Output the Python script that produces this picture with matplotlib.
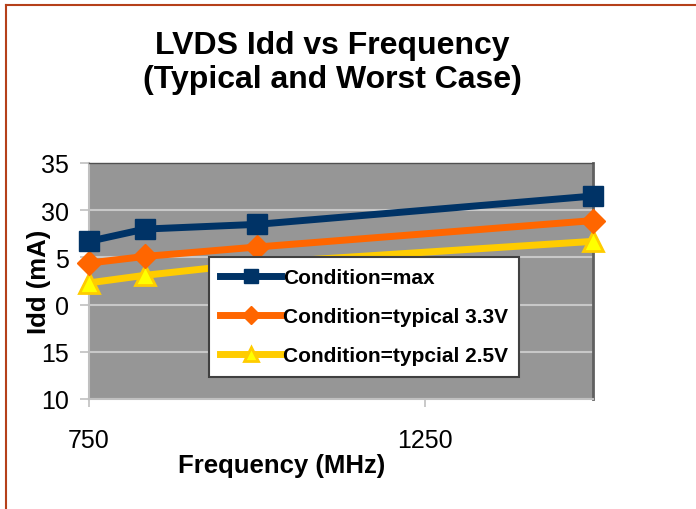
import matplotlib
matplotlib.use("Agg")
import matplotlib.pyplot as plt
from matplotlib.lines import Line2D

plt.rcParams['font.family'] = ['Liberation Sans', 'DejaVu Sans']

freq = [750, 833, 1000, 1500]
idd_max = [26.7, 28.0, 28.5, 31.5]
idd_typ33 = [24.4, 25.1, 26.1, 28.9]
idd_typ25 = [22.3, 23.1, 24.4, 26.7]
series_names = ["Condition=max", "Condition=typical 3.3V", "Condition=typcial 2.5V"]
xticks = [750, 1250]
yticks = [10, 15, 20, 25, 30, 35]
# tick texts as they appear in the reference (leading "2" hidden behind the axis title)
ytick_labels = ["10", "15", "0", "5", "30", "35"]
title = "LVDS Idd vs Frequency\n(Typical and Worst Case)"
xlabel = "Frequency (MHz)"
ylabel = "Idd (mA)"

fig = plt.figure(figsize=(6.96, 5.10), dpi=100)
ax = fig.add_axes([89/696, 1-400/510, (593-89)/696, (400-164)/510])
ax.set_facecolor('#969696')

ax.plot(freq, idd_max, color='#003366', lw=5, marker='s', ms=14.5,
        mfc='#003366', mec='#003366', label=series_names[0], clip_on=False, zorder=5)
ax.plot(freq, idd_typ33, color='#FF6600', lw=5, marker='D', ms=12.5,
        mfc='#FF6600', mec='#FF6600', label=series_names[1], clip_on=False, zorder=4)
ax.plot(freq, idd_typ25, color='#FFCC00', lw=5, marker='^', ms=15,
        mfc='#FFFF00', mec='#FFCC00', mew=2, label=series_names[2], clip_on=False, zorder=3)

ax.set_xlim(750, 1500)
ax.set_ylim(10, 35)
ax.set_xticks(xticks)
ax.set_yticks(yticks)
ax.set_yticklabels(ytick_labels)
ax.grid(axis='y', color='#C8C8C8', lw=1.5)
ax.set_axisbelow(True)

for s in ['left', 'bottom']:
    ax.spines[s].set_color('#C0C0C0')
    ax.spines[s].set_linewidth(1.5)
ax.spines['top'].set_color('#505050')
ax.spines['top'].set_linewidth(1.0)
ax.spines['right'].set_color('#606060')
ax.spines['right'].set_linewidth(2.0)

ax.tick_params(axis='x', length=6, width=1.2, color='#C0C0C0', pad=15, labelsize=18)
ax.tick_params(axis='y', length=6.5, width=1.2, color='#C0C0C0', pad=8, labelsize=18)

ax.set_xlabel(xlabel, fontsize=18.5, fontweight='bold', va='center')
ax.xaxis.set_label_coords((282-89)/504, (400-466)/236)
ax.set_ylabel(ylabel, fontsize=18.5, fontweight='bold', va='center')
ax.yaxis.set_label_coords((39-89)/504, 0.5)

fig.text(332/696, 1-63/510, title, ha='center', va='center', fontsize=23,
         fontweight='bold', linespacing=1.2)

leg = ax.legend(loc='upper left', bbox_to_anchor=((209-89)/504, (400-258)/236),
                prop={'weight': 'bold', 'size': 15}, frameon=True, fancybox=False,
                handlelength=2.9, handletextpad=0.1, labelspacing=0.95,
                borderpad=0.55, borderaxespad=0, markerscale=0.7, numpoints=1)
leg.get_frame().set_edgecolor('#404040')
leg.get_frame().set_linewidth(1.5)
leg.get_frame().set_facecolor('white')
leg.get_frame().set_alpha(1)
leg.set_zorder(10)

bc = '#B5401A'
fig.add_artist(Line2D([5.5/696, 5.5/696], [0, 1-5.5/510], color=bc, lw=1.5, transform=fig.transFigure))
fig.add_artist(Line2D([5.5/696, 1], [1-5.5/510, 1-5.5/510], color=bc, lw=1.5, transform=fig.transFigure))

fig.savefig('out.png', dpi=100)
